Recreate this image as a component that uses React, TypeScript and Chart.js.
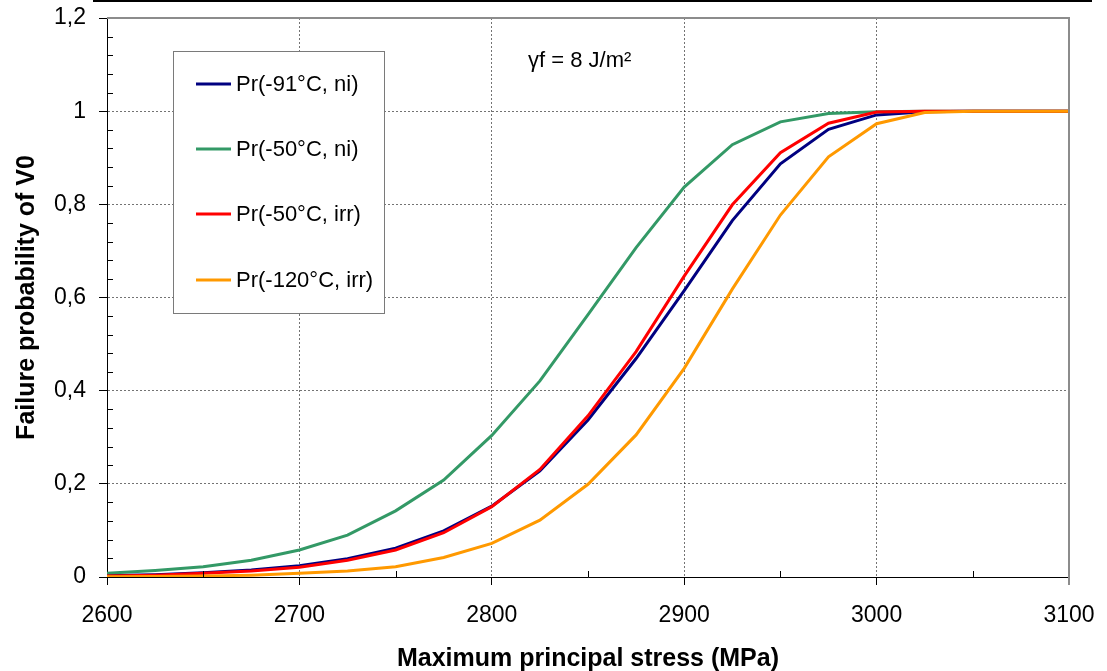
import { useEffect, useRef } from "react";
import { Chart, registerables } from "chart.js";

Chart.register(...registerables);

const FONT = "'Liberation Sans', Arial, Helvetica, sans-serif";

// Maximum principal stress (MPa)
const stress = [
  2600, 2625, 2650, 2675, 2700, 2725, 2750, 2775, 2800, 2825, 2850,
  2875, 2900, 2925, 2950, 2975, 3000, 3025, 3050, 3075, 3100,
];

// Failure probability of V0 for each condition
const prM91Ni = [
  0.003, 0.005, 0.009, 0.015, 0.024, 0.039, 0.062, 0.099, 0.152, 0.228, 0.337,
  0.469, 0.615, 0.765, 0.887, 0.961, 0.992, 0.999, 1, 1, 1,
];
const prM50Ni = [
  0.008, 0.014, 0.022, 0.036, 0.058, 0.09, 0.142, 0.208, 0.304, 0.421, 0.563,
  0.707, 0.837, 0.928, 0.977, 0.995, 0.999, 1, 1, 1, 1,
];
const prM50Irr = [
  0.002, 0.004, 0.008, 0.013, 0.021, 0.036, 0.058, 0.095, 0.151, 0.231, 0.346,
  0.484, 0.646, 0.799, 0.911, 0.974, 0.998, 1, 1, 1, 1,
];
const prM120Irr = [
  0.0005, 0.001, 0.002, 0.004, 0.008, 0.013, 0.022, 0.042, 0.072, 0.122, 0.199,
  0.305, 0.448, 0.618, 0.777, 0.902, 0.973, 0.997, 1, 1, 1,
];

const seriesLabels = [
  "Pr(-91°C, ni)",
  "Pr(-50°C, ni)",
  "Pr(-50°C, irr)",
  "Pr(-120°C, irr)",
];
const seriesValues = [prM91Ni, prM50Ni, prM50Irr, prM120Irr];
const seriesColors = ["#000080", "#339966", "#ff0000", "#ff9900"];

const xTitle = "Maximum principal stress (MPa)";
const yTitle = "Failure probability of V0";
const note = "γf = 8 J/m²";

// Decorations: minor ticks, plot frame, header rule, legend box and note
const decorations = {
  id: "decorations",
  afterDraw(chart: any) {
    const { ctx, chartArea } = chart;
    const { left, right, top, bottom } = chartArea;
    const xs = chart.scales.x;
    const ys = chart.scales.y;
    ctx.save();

    // minor ticks (inside)
    ctx.strokeStyle = "#000";
    ctx.lineWidth = 1;
    ctx.beginPath();
    for (let i = 1; i < 30; i++) {
      if (i % 5 === 0) continue;
      const y = Math.round(ys.getPixelForValue(i * 0.04)) + 0.5;
      ctx.moveTo(left, y);
      ctx.lineTo(left + 6, y);
    }
    for (let v = 2650; v < 3100; v += 100) {
      const x = Math.round(xs.getPixelForValue(v)) + 0.5;
      ctx.moveTo(x, bottom);
      ctx.lineTo(x, bottom - 6);
    }
    ctx.stroke();

    // plot frame on top and right
    ctx.strokeStyle = "#8c8c8c";
    ctx.lineWidth = 2;
    ctx.beginPath();
    ctx.moveTo(left, top);
    ctx.lineTo(right, top);
    ctx.lineTo(right, bottom + 8);
    ctx.stroke();

    // header rule
    ctx.fillStyle = "#000";
    ctx.fillRect(93, 0, 999, 2);

    // legend box
    const bx = 173, by = 51, bw = 211, bh = 262;
    ctx.fillStyle = "#fff";
    ctx.fillRect(bx, by, bw, bh);
    ctx.strokeStyle = "#7a7a7a";
    ctx.lineWidth = 1;
    ctx.strokeRect(bx + 0.5, by + 0.5, bw, bh);
    const rows = [84, 149, 214, 280];
    ctx.font = `22px ${FONT}`;
    ctx.textBaseline = "middle";
    ctx.textAlign = "left";
    chart.data.datasets.forEach((ds: any, i: number) => {
      const y = rows[i];
      ctx.strokeStyle = ds.borderColor;
      ctx.lineWidth = 3;
      ctx.beginPath();
      ctx.moveTo(196, y);
      ctx.lineTo(231, y);
      ctx.stroke();
      ctx.fillStyle = "#000";
      ctx.fillText(ds.label, 236, y + 1);
    });

    // note
    ctx.font = `22px ${FONT}`;
    ctx.fillStyle = "#000";
    ctx.textAlign = "left";
    ctx.textBaseline = "alphabetic";
    ctx.fillText(note, 528, 67);

    ctx.restore();
  },
};

export default function App() {
  const canvasRef = useRef<HTMLCanvasElement | null>(null);

  useEffect(() => {
    const canvas = canvasRef.current;
    if (!canvas) return;
    const datasets = seriesLabels.map((label, i) => ({
      label,
      data: stress.map((s, k) => ({ x: s, y: seriesValues[i][k] })),
      borderColor: seriesColors[i],
      backgroundColor: seriesColors[i],
      borderWidth: 3,
      pointRadius: 0,
      tension: 0,
      fill: false,
      order: seriesLabels.length - i,
    }));

    const chart = new Chart(canvas, {
      type: "line",
      data: { datasets },
      plugins: [decorations],
      options: {
        responsive: false,
        animation: false,
        events: [],
        layout: { padding: { top: 18, right: 38, left: 0, bottom: 0 } },
        plugins: { legend: { display: false }, tooltip: { enabled: false } },
        scales: {
          x: {
            type: "linear",
            min: 2600,
            max: 3100,
            afterFit: (scale: any) => {
              scale.height = 94;
              scale.paddingLeft = 0;
              scale.paddingRight = 0;
            },
            ticks: {
              stepSize: 100,
              color: "#000",
              padding: 17,
              font: { family: FONT, size: 23 },
              maxRotation: 0,
              callback: (v: any) => String(Math.round(Number(v))),
            },
            grid: {
              color: "rgba(0,0,0,0.55)",
              lineWidth: 1,
              tickLength: 8,
              tickColor: "#000",
              tickBorderDash: [],
            },
            border: { color: "#000", width: 1, dash: [2, 2] },
            title: {
              display: true,
              text: xTitle,
              color: "#000",
              font: { family: FONT, size: 25, weight: "bold", lineHeight: 1 },
              padding: { top: 0, bottom: -1 },
            },
          },
          y: {
            type: "linear",
            min: 0,
            max: 1.2,
            afterFit: (scale: any) => {
              scale.width = 107;
              scale.paddingTop = 0;
              scale.paddingBottom = 0;
            },
            ticks: {
              stepSize: 0.2,
              color: "#000",
              padding: 13,
              font: { family: FONT, size: 23 },
              callback: (v: any) => {
                const n = Math.round(Number(v) * 10) / 10;
                return String(n).replace(".", ",");
              },
            },
            grid: {
              color: "rgba(0,0,0,0.55)",
              lineWidth: 1,
              tickLength: 8,
              tickColor: "#000",
              tickBorderDash: [],
            },
            border: { color: "#000", width: 1, dash: [2, 2] },
            title: {
              display: true,
              text: yTitle,
              color: "#000",
              font: { family: FONT, size: 25, weight: "bold", lineHeight: 1.2 },
              padding: { top: 12, bottom: 0 },
            },
          },
        },
      } as any,
    });

    return () => chart.destroy();
  }, []);

  return (
    <div style={{ position: "fixed", left: 0, top: 0, width: 1107, height: 671, background: "#fff" }}>
      <canvas ref={canvasRef} width={1107} height={671} style={{ display: "block" }} />
    </div>
  );
}
